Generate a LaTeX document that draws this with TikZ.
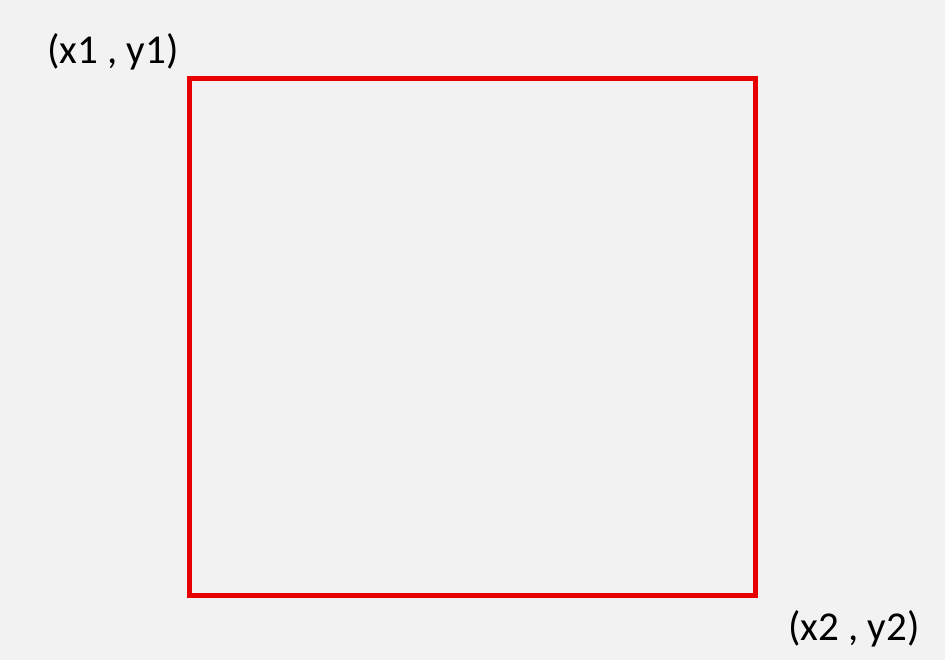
\documentclass[tikz,border=0pt]{standalone}
\usepackage{fontspec}
\setmainfont{Carlito}
\usetikzlibrary{positioning}
\definecolor{boxred}{HTML}{E80000}
\definecolor{slidegray}{HTML}{F2F2F2}

\begin{document}
\begin{tikzpicture}[x=1pt, y=-1pt]
  % Background
  \fill[slidegray] (0,0) rectangle (945,660);
  \useasboundingbox (0,0) rectangle (945,660);

  % Box corners
  \coordinate (p1) at (189.5,78.5);
  \coordinate (p2) at (755.5,595.5);
  \draw[draw=boxred, line width=5pt] (p1) rectangle (p2);

  % Corner labels
  \node[anchor=base west, inner sep=0pt, font=\fontsize{41}{49}\selectfont] (l1) at (47,64) {(x1 , y1)};
  \node[anchor=base west, inner sep=0pt, font=\fontsize{41}{49}\selectfont] (l2) at (788,640) {(x2 , y2)};
\end{tikzpicture}
\end{document}
